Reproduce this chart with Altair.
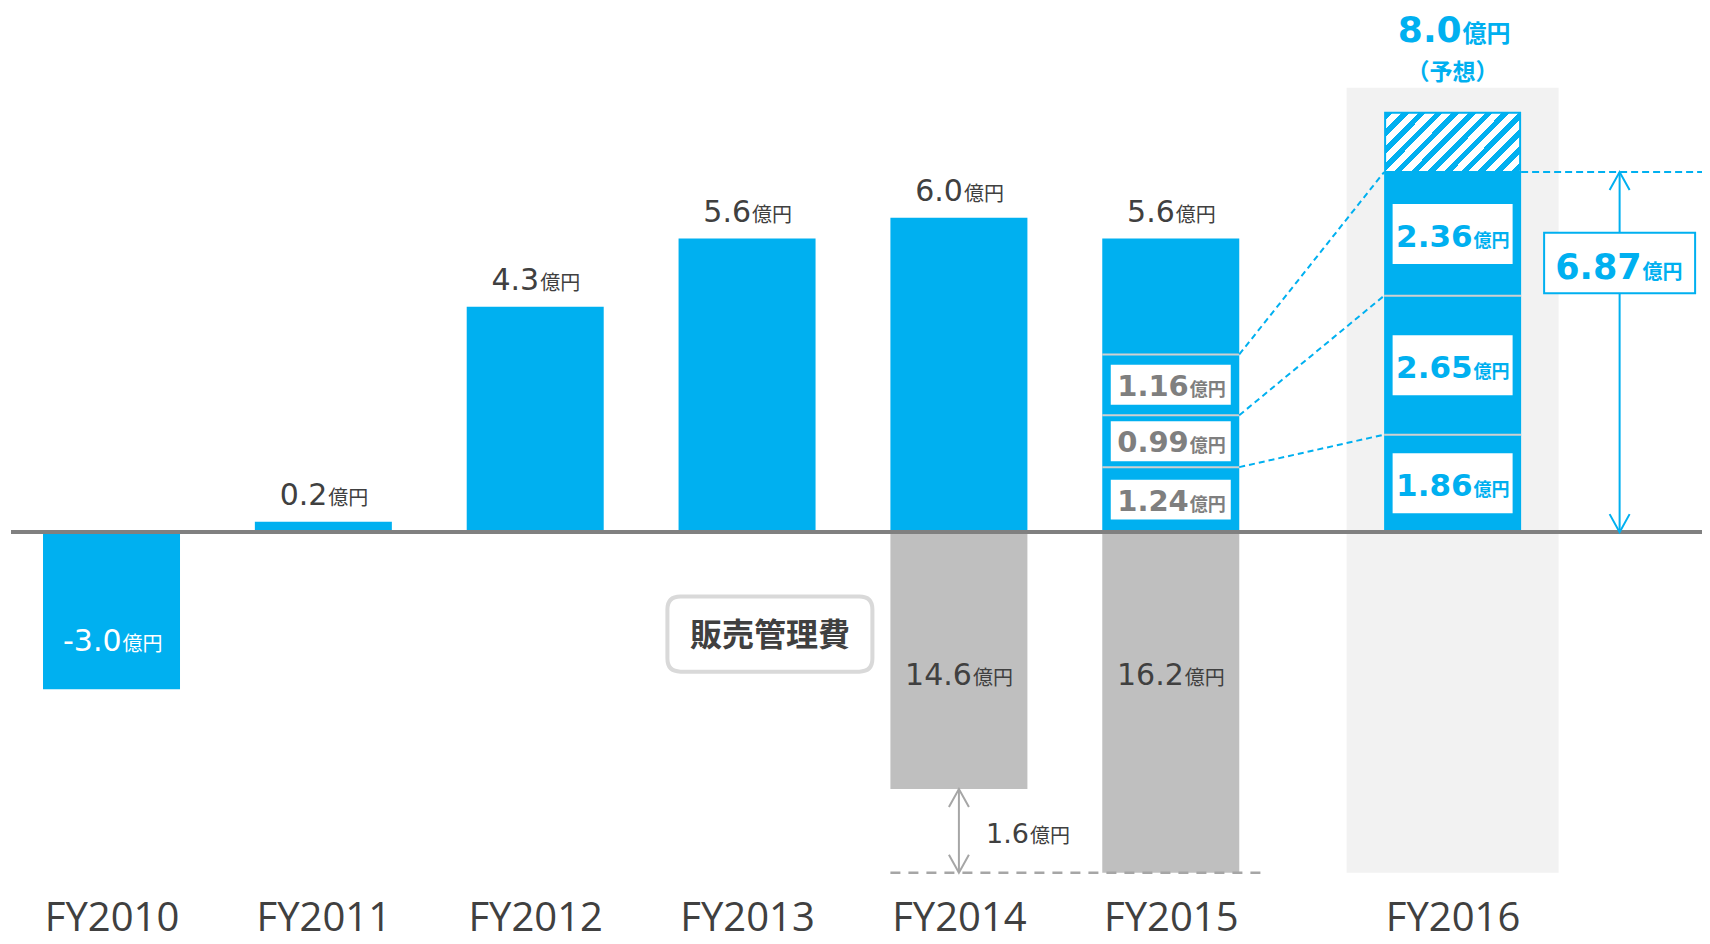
import altair as alt
import pandas as pd

# ---------------- data ----------------
fiscal_years = [2010, 2011, 2012, 2013, 2014, 2015, 2016]
profit_years = [2010, 2011, 2012, 2013, 2014, 2015]
operating_profit = [-3.0, 0.2, 4.3, 5.6, 6.0, 5.6]          # 億円
sga_years = [2014, 2015]
sga_expense = [14.6, 16.2]                                  # 億円 (販売管理費)
forecast_year = 2016
forecast_profit = 8.0                                       # 億円 (予想)
breakdown_2015 = [1.24, 0.99, 1.16]                         # 億円
breakdown_2016 = [1.86, 2.65, 2.36]                         # 億円
unit_label = "億円"
sga_label = "販売管理費"
forecast_note = "（予想）"

SGA_AXIS_BREAK = 9.7   # the grey SG&A bars are drawn on a broken axis (first 9.7億円 cut away)

# ---------------- styling / layout ----------------
BLUE = "#00B0F0"
GRAY_BAR = "#BFBFBF"
TEXT = "#404040"
BOX_GRAY_TEXT = "#7F7F7F"
ZERO_LINE = "#808080"
BG = "#F2F2F2"
ARROW_GRAY = "#A6A6A6"
SEP = "#D0D0D0"
NUM_FONT = "DejaVu Sans"
CJK_FONT = "Noto Sans CJK JP"
AXIS_FONT = "Open Sans"

W, H = 1694, 891
BAR_W = 137
SHIFT = 70          # extra gap before the forecast year
ARROW_DX = 167      # 6.87 arrow to the right of the FY2016 bar

# ---------------- tables ----------------
profit_df = pd.DataFrame({"year": profit_years, "value": operating_profit})
profit_df["num"] = [f"{v:.1f}" for v in operating_profit]
pos_df = profit_df[profit_df["value"] > 0]
neg_df = profit_df[profit_df["value"] < 0]

sga_df = pd.DataFrame({"year": sga_years, "sga": sga_expense})
sga_df["bottom"] = -(sga_df["sga"] - SGA_AXIS_BREAK)
sga_df["num"] = [f"{v:.1f}" for v in sga_expense]


def seg_table(year, parts):
    df = pd.DataFrame({"value": parts})
    df["year"] = year
    df["end"] = df["value"].cumsum()
    df["start"] = df["end"] - df["value"]
    df["mid"] = (df["start"] + df["end"]) / 2
    df["num"] = [f"{v:.2f}" for v in parts]
    return df


seg15 = seg_table(2015, breakdown_2015)
seg16 = seg_table(forecast_year, breakdown_2016)

conn_df = pd.DataFrame({"x": 2015, "x2": forecast_year,
                        "y": seg15["end"].values, "y2": seg16["end"].values})

total16 = round(sum(breakdown_2016), 2)
fc_df = pd.DataFrame({"year": [forecast_year], "forecast": [forecast_profit],
                      "total": [total16], "floor": [sga_df["bottom"].min()],
                      "num_fc": [f"{forecast_profit:.1f}"], "num_total": [f"{total16:.2f}"]})

diff_df = pd.DataFrame({"x": [sga_years[0]], "x2": [sga_years[1]],
                        "top": [sga_df["bottom"].iloc[0]], "bottom": [sga_df["bottom"].iloc[1]]})
diff_df["mid"] = (diff_df["top"] + diff_df["bottom"]) / 2
diff_df["num"] = [f"{sga_expense[1] - sga_expense[0]:.1f}"]

# ---------------- scales / encodings ----------------
XS = alt.Scale(domain=[2009.535, 2017.484], nice=False, zero=False)
YS = alt.Scale(domain=[-7.0, 10.0], nice=False, zero=False)
XA = alt.Axis(values=fiscal_years, labelExpr="'FY' + datum.value", title=None,
              domain=False, ticks=False, tickSize=0, grid=False,
              labelFont=AXIS_FONT, labelFontSize=40, labelColor=TEXT,
              labelBaseline="alphabetic", labelPadding=31, labelFlush=False,
              labelOverlap=False, labelBound=False,
              labelOffset={"condition": {"test": f"datum.value == {forecast_year}", "value": SHIFT},
                           "value": 0})


def X(f):
    return alt.X(f, type="quantitative", scale=XS, axis=XA)


def Y(f):
    return alt.Y(f, type="quantitative", scale=YS, axis=None)


def XD(v):
    return alt.XDatum(v, type="quantitative", scale=XS, axis=XA)


def YD(v):
    return alt.YDatum(v, type="quantitative", scale=YS, axis=None)


CHEV_UP = "M-1,1.8L0,0L1,1.8"
CHEV_DOWN = "M-1,-1.8L0,0L1,-1.8"
BOX15 = "M-1,-0.333H1V0.333H-1Z"
BOX16 = "M-1,-0.5H1V0.5H-1Z"
BOX_TOTAL = "M-1,-0.4H1V0.4H-1Z"
ROUND_BOX = ("M-0.873,-0.366H0.873Q1,-0.366 1,-0.239V0.239Q1,0.366 0.873,0.366"
             "H-0.873Q-1,0.366 -1,0.239V-0.239Q-1,-0.366 -0.873,-0.366Z")

# hatch pattern for the forecast top part
N_STRIPES = 12
stops = []
for i in range(N_STRIPES):
    a, b, c = i / N_STRIPES, (i + 0.45) / N_STRIPES, (i + 1) / N_STRIPES
    stops += [alt.GradientStop(color=BLUE, offset=a), alt.GradientStop(color=BLUE, offset=b),
              alt.GradientStop(color="white", offset=b), alt.GradientStop(color="white", offset=c)]
hatch = alt.LinearGradient(gradient="linear", stops=stops, x1=0, y1=0, x2=1.25, y2=0.5425)

layers = []

# forecast background
layers.append(alt.Chart(fc_df).mark_bar(width=212, color=BG, xOffset=SHIFT, yOffset=-25)
              .encode(x=X("year"), y=Y("forecast"), y2=alt.Y2("floor")))
# operating profit bars
layers.append(alt.Chart(profit_df).mark_bar(width=BAR_W, color=BLUE)
              .encode(x=X("year"), y=Y("value"), y2=alt.Y2Datum(0)))
# SG&A bars
layers.append(alt.Chart(sga_df).mark_bar(width=BAR_W, color=GRAY_BAR)
              .encode(x=X("year"), y=Y("bottom"), y2=alt.Y2Datum(0)))
# FY2016 breakdown bar
layers.append(alt.Chart(seg16).mark_bar(width=BAR_W, color=BLUE, xOffset=SHIFT)
              .encode(x=X("year"), y=Y("end"), y2=alt.Y2("start")))
# separators
layers.append(alt.Chart(seg15).mark_tick(orient="horizontal", size=BAR_W, thickness=2, color=SEP, opacity=1)
              .encode(x=X("year"), y=Y("end")))
layers.append(alt.Chart(seg16).mark_tick(orient="horizontal", size=BAR_W, thickness=2, color=SEP, opacity=1,
                                         xOffset=SHIFT)
              .encode(x=X("year"), y=Y("end")))
# hatched forecast part
layers.append(alt.Chart(fc_df).mark_bar(width=BAR_W - 2, fill=hatch, stroke=BLUE, strokeWidth=2, xOffset=SHIFT)
              .encode(x=X("year"), y=Y("forecast"), y2=alt.Y2("total")))
# white label boxes
layers.append(alt.Chart(seg15).mark_point(shape=BOX15, size=120 ** 2, filled=True, color="white",
                                          strokeWidth=0, opacity=1)
              .encode(x=X("year"), y=Y("mid")))
layers.append(alt.Chart(seg16).mark_point(shape=BOX16, size=120 ** 2, filled=True, color="white",
                                          strokeWidth=0, opacity=1, xOffset=SHIFT)
              .encode(x=X("year"), y=Y("mid")))
# box labels
layers.append(alt.Chart(seg15).mark_text(align="right", baseline="alphabetic", dx=18, dy=11, font=NUM_FONT,
                                         fontSize=29, fontWeight="bold", color=BOX_GRAY_TEXT)
              .encode(x=X("year"), y=Y("mid"), text="num:N"))
layers.append(alt.Chart(seg15).mark_text(align="left", baseline="alphabetic", dx=19, dy=11, font=CJK_FONT,
                                         fontSize=18, fontWeight="bold", color=BOX_GRAY_TEXT, text=unit_label)
              .encode(x=X("year"), y=Y("mid")))
layers.append(alt.Chart(seg16).mark_text(align="right", baseline="alphabetic", dx=20, dy=13, font=NUM_FONT,
                                         fontSize=31, fontWeight="bold", color=BLUE, xOffset=SHIFT)
              .encode(x=X("year"), y=Y("mid"), text="num:N"))
layers.append(alt.Chart(seg16).mark_text(align="left", baseline="alphabetic", dx=21, dy=13, font=CJK_FONT,
                                         fontSize=18, fontWeight="bold", color=BLUE, text=unit_label,
                                         xOffset=SHIFT)
              .encode(x=X("year"), y=Y("mid")))
# dashed connectors FY2015 -> FY2016
layers.append(alt.Chart(conn_df).mark_rule(color=BLUE, strokeWidth=2, strokeDash=[6, 4],
                                           xOffset=BAR_W / 2, x2Offset=SHIFT - BAR_W / 2)
              .encode(x=X("x"), x2=alt.X2("x2"), y=Y("y"), y2=alt.Y2("y2")))
# zero line
layers.append(alt.Chart(fc_df).mark_rule(color=ZERO_LINE, strokeWidth=4)
              .encode(x=alt.value(3), x2=alt.value(W), y=YD(0)))
# profit labels
layers.append(alt.Chart(pos_df).mark_text(align="right", baseline="alphabetic", dx=4, dy=-17, font=NUM_FONT,
                                          fontSize=30, color=TEXT)
              .encode(x=X("year"), y=Y("value"), text="num:N"))
layers.append(alt.Chart(pos_df).mark_text(align="left", baseline="alphabetic", dx=5, dy=-17, font=CJK_FONT,
                                          fontSize=20, color=TEXT, text=unit_label)
              .encode(x=X("year"), y=Y("value")))
layers.append(alt.Chart(neg_df).mark_text(align="right", baseline="alphabetic", dx=10, dy=-38, font=NUM_FONT,
                                          fontSize=30, color="white")
              .encode(x=X("year"), y=Y("value"), text="num:N"))
layers.append(alt.Chart(neg_df).mark_text(align="left", baseline="alphabetic", dx=11, dy=-38, font=CJK_FONT,
                                          fontSize=20, color="white", text=unit_label)
              .encode(x=X("year"), y=Y("value")))
# SG&A labels
layers.append(alt.Chart(sga_df).mark_text(align="right", baseline="alphabetic", dx=13, dy=153, font=NUM_FONT,
                                          fontSize=30, color=TEXT)
              .encode(x=X("year"), y=YD(0), text="num:N"))
layers.append(alt.Chart(sga_df).mark_text(align="left", baseline="alphabetic", dx=14, dy=153, font=CJK_FONT,
                                          fontSize=20, color=TEXT, text=unit_label)
              .encode(x=X("year"), y=YD(0)))
# SG&A difference arrow
layers.append(alt.Chart(diff_df).mark_rule(color=ARROW_GRAY, strokeWidth=2.5, strokeDash=[10, 8],
                                           xOffset=-BAR_W / 2, x2Offset=BAR_W / 2 + 25)
              .encode(x=X("x"), x2=alt.X2("x2"), y=Y("bottom")))
layers.append(alt.Chart(diff_df).mark_rule(color=ARROW_GRAY, strokeWidth=2)
              .encode(x=X("x"), y=Y("top"), y2=alt.Y2("bottom")))
layers.append(alt.Chart(diff_df).mark_point(shape=CHEV_UP, size=400, filled=False, color=ARROW_GRAY,
                                            strokeWidth=2, opacity=1)
              .encode(x=X("x"), y=Y("top")))
layers.append(alt.Chart(diff_df).mark_point(shape=CHEV_DOWN, size=400, filled=False, color=ARROW_GRAY,
                                            strokeWidth=2, opacity=1)
              .encode(x=X("x"), y=Y("bottom")))
layers.append(alt.Chart(diff_df).mark_text(align="right", baseline="alphabetic", dx=70, dy=12, font=NUM_FONT,
                                           fontSize=27, color=TEXT)
              .encode(x=X("x"), y=Y("mid"), text="num:N"))
layers.append(alt.Chart(diff_df).mark_text(align="left", baseline="alphabetic", dx=71, dy=12, font=CJK_FONT,
                                           fontSize=20, color=TEXT, text=unit_label)
              .encode(x=X("x"), y=Y("mid")))
# 販売管理費 tag
layers.append(alt.Chart(fc_df).mark_point(shape=ROUND_BOX, size=205 ** 2, filled=True, fill="white",
                                          stroke="#D9D9D9", strokeWidth=4, opacity=1,
                                          xOffset=-189, yOffset=102)
              .encode(x=XD(sga_years[0]), y=YD(0)))
layers.append(alt.Chart(fc_df).mark_text(text=sga_label, font=CJK_FONT, fontSize=32, fontWeight="bold",
                                         color=TEXT, align="center", baseline="middle", dx=-189, dy=104)
              .encode(x=XD(sga_years[0]), y=YD(0)))
# forecast title
layers.append(alt.Chart(fc_df).mark_text(align="right", baseline="alphabetic", dx=9, dy=-71, font=NUM_FONT,
                                         fontSize=36, fontWeight="bold", color=BLUE, xOffset=SHIFT)
              .encode(x=X("year"), y=Y("forecast"), text="num_fc:N"))
layers.append(alt.Chart(fc_df).mark_text(align="left", baseline="alphabetic", dx=10, dy=-71, font=CJK_FONT,
                                         fontSize=24, fontWeight="bold", color=BLUE, text=unit_label,
                                         xOffset=SHIFT)
              .encode(x=X("year"), y=Y("forecast")))
layers.append(alt.Chart(fc_df).mark_text(align="center", baseline="alphabetic", dy=-33, font=CJK_FONT,
                                         fontSize=23, fontWeight="bold", color=BLUE, text=forecast_note,
                                         xOffset=SHIFT)
              .encode(x=X("year"), y=Y("forecast")))
# 6.87 bracket
layers.append(alt.Chart(fc_df).mark_rule(color=BLUE, strokeWidth=2, strokeDash=[7, 4],
                                         xOffset=SHIFT + BAR_W / 2)
              .encode(x=X("year"), x2=alt.value(W), y=Y("total")))
layers.append(alt.Chart(fc_df).mark_rule(color=BLUE, strokeWidth=2, xOffset=SHIFT + ARROW_DX)
              .encode(x=X("year"), y=Y("total"), y2=alt.Y2Datum(0)))
layers.append(alt.Chart(fc_df).mark_point(shape=CHEV_UP, size=400, filled=False, color=BLUE, strokeWidth=2,
                                          opacity=1, xOffset=SHIFT + ARROW_DX)
              .encode(x=X("year"), y=Y("total")))
layers.append(alt.Chart(fc_df).mark_point(shape=CHEV_DOWN, size=400, filled=False, color=BLUE, strokeWidth=2,
                                          opacity=1, xOffset=SHIFT + ARROW_DX)
              .encode(x=X("year"), y=YD(0)))
layers.append(alt.Chart(fc_df).mark_point(shape=BOX_TOTAL, size=151 ** 2, filled=True, fill="white",
                                          stroke=BLUE, strokeWidth=2, opacity=1,
                                          xOffset=SHIFT + ARROW_DX, yOffset=91)
              .encode(x=X("year"), y=Y("total")))
layers.append(alt.Chart(fc_df).mark_text(align="right", baseline="alphabetic", dx=22, dy=107, font=NUM_FONT,
                                         fontSize=35, fontWeight="bold", color=BLUE,
                                         xOffset=SHIFT + ARROW_DX)
              .encode(x=X("year"), y=Y("total"), text="num_total:N"))
layers.append(alt.Chart(fc_df).mark_text(align="left", baseline="alphabetic", dx=23, dy=107, font=CJK_FONT,
                                         fontSize=20, fontWeight="bold", color=BLUE, text=unit_label,
                                         xOffset=SHIFT + ARROW_DX)
              .encode(x=X("year"), y=Y("total")))

chart = (
    alt.layer(*layers)
    .properties(width=W, height=H, padding={"left": 0, "top": 0, "right": 0, "bottom": 45},
                autosize=alt.AutoSizeParams(type="none"), background="white")
    .configure_view(stroke=None)
)

chart.save("out.html", embed_options={"renderer": "svg", "actions": False})
